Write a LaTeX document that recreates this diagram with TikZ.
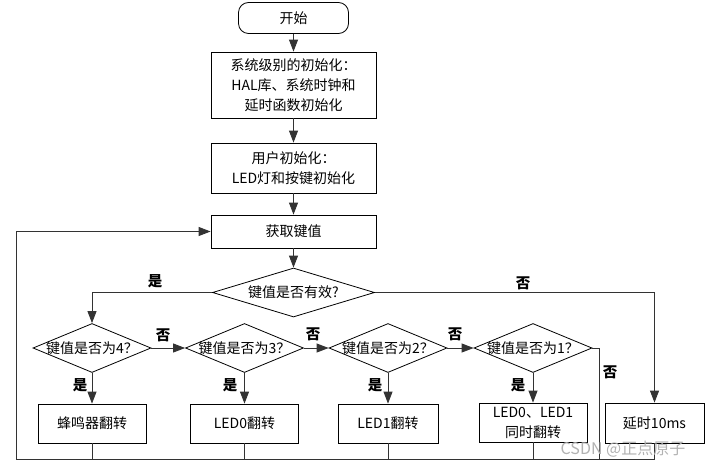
\documentclass[tikz,border=0pt]{standalone}
\usepackage{fontspec}
\setmainfont{Noto Sans CJK SC}
\usetikzlibrary{shapes.geometric,arrows.meta}
\newcommand\mytxt{\fontsize{14}{20}\selectfont}
\newcommand\mylab{\fontsize{14.5}{14.5}\selectfont\bfseries}
\begin{document}
\begin{tikzpicture}[x=1pt,y=-1pt,
  proc/.style={draw=black, line width=0.8pt, inner sep=0pt, align=center, font=\mytxt},
  dec/.style={diamond, draw=black, line width=0.8pt, inner sep=0pt, minimum width=118pt, minimum height=49pt, font=\mytxt},
  conn/.style={draw=black!80, line width=0.9pt},
  arr/.style={conn, -{Triangle[length=12pt,width=9pt]}},
  lab/.style={font=\mylab, inner sep=0pt}]
\useasboundingbox (0,0) rectangle (708,468);
\fill[white] (0,0) rectangle (708,468);

\node[proc, rounded corners=10pt, minimum width=110pt, minimum height=31pt] (start) at (293.5,18) {开始};
\node[proc, minimum width=165pt, minimum height=66pt] (sys) at (293.5,85) {系统级别的初始化：\\HAL库、系统时钟和\\延时函数初始化};
\node[proc, minimum width=165pt, minimum height=50pt] (user) at (293.5,168) {用户初始化：\\LED灯和按键初始化};
\node[proc, minimum width=165pt, minimum height=33pt] (get) at (293.5,231.5) {获取键值};
\node[dec, minimum width=162pt] (valid) at (293.5,292.5) {\makebox[0pt]{键值是否有效?}};

\node[dec] (d4) at (92,348) {\makebox[0pt]{键值是否为4？}};
\node[dec] (d3) at (244.5,348) {\makebox[0pt]{键值是否为3？}};
\node[dec] (d2) at (388,348) {\makebox[0pt]{键值是否为2？}};
\node[dec] (d1) at (533,348) {\makebox[0pt]{键值是否为1？}};

\node[proc, minimum width=108pt, minimum height=39pt] (A) at (92,423.5) {蜂鸣器翻转};
\node[proc, minimum width=108pt, minimum height=39pt] (B) at (244.5,423.5) {LED0翻转};
\node[proc, minimum width=100pt, minimum height=39pt] (C) at (388,423.5) {LED1翻转};
\node[proc, minimum width=108pt, minimum height=39pt] (D) at (533,422.5) {LED0、LED1\\同时翻转};
\node[proc, minimum width=99pt, minimum height=40pt] (E) at (654.5,423) {延时10ms};

\coordinate (loop) at (16,459);
\coordinate (r1) at (599,459);

\draw[arr] (start) -- (sys);
\draw[arr] (sys) -- (user);
\draw[arr] (user) -- (get);
\draw[arr] (get) -- (valid);
\draw[arr] (valid.west) -| (d4.north);
\draw[arr] (valid.east) -| (E.north);
\draw[arr] (d4.east) -- (d3.west);
\draw[arr] (d3.east) -- (d2.west);
\draw[arr] (d2.east) -- (d1.west);
\draw[arr] (d4.south) -- (A.north);
\draw[arr] (d3.south) -- (B.north);
\draw[arr] (d2.south) -- (C.north);
\draw[arr] (d1.south) -- (D.north);
\draw[conn] (d1.east) -| (r1);
\draw[conn] (A.south) -- (A.south |- loop);
\draw[conn] (B.south) -- (B.south |- loop);
\draw[conn] (C.south) -- (C.south |- loop);
\draw[conn] (D.south) -- (D.south |- loop);
\draw[conn] (E.south) |- (loop);
\draw[arr] (loop) |- (get.west);

\node[lab] (l0) at (155,281) {是};
\node[lab] (l1) at (523,283) {否};
\node[lab] (l2) at (163,335) {否};
\node[lab] (l3) at (313,334) {否};
\node[lab] (l4) at (455,334) {否};
\node[lab] (l5) at (610,372) {否};
\node[lab] (l6) at (80,385) {是};
\node[lab] (l7) at (230,385) {是};
\node[lab] (l8) at (375,385) {是};
\node[lab] (l9) at (518,385) {是};

\node[text=black!30, font=\fontsize{16}{16}\selectfont, inner sep=0pt] (wm) at (623,449) {CSDN @正点原子};
\end{tikzpicture}
\end{document}
